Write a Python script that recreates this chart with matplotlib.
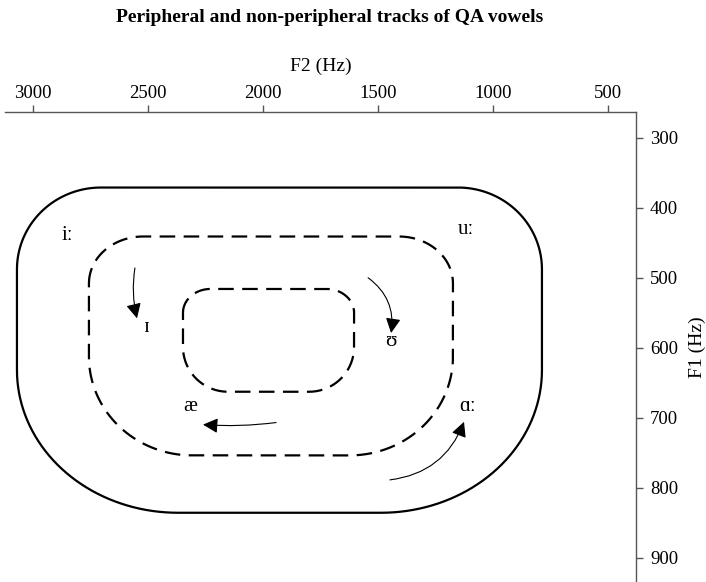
import numpy as np
import matplotlib
matplotlib.use("Agg")
import matplotlib.pyplot as plt
from matplotlib.path import Path
from matplotlib.patches import PathPatch, FancyArrowPatch

plt.rcParams['font.family'] = ['Liberation Serif', 'DejaVu Serif']

# ---- data (Hz) ----
title = "Peripheral and non-peripheral tracks of QA vowels"
x_ticks = [3000, 2500, 2000, 1500, 1000, 500]
y_ticks = [300, 400, 500, 600, 700, 800, 900]

# shapes: F2 left (high), F2 right (low), F1 top, F1 bottom; corner radii (F2, F1)
outer_box = [3070, 787, 371, 836]
outer_rad_top = [365, 117]
outer_rad_bot = [700, 204]
middle_box = [2757, 1174, 441, 754]
middle_rad_top = [235, 67]
middle_rad_bot = [450, 141]
inner_box = [2348, 1604, 516, 663]
inner_rad_top = [120, 34]
inner_rad_bot = [196, 64]

vowel_labels = ["iː", "ɪ", "æ", "uː", "ʊ", "ɑː"]
vowel_f2 = [2852, 2509, 2317, 1117, 1443, 1109]
vowel_f1 = [439, 571, 684, 431, 591, 684]

arrow_tail_f2 = [2557, 1543, 1943, 1448]
arrow_tail_f1 = [486, 500, 707, 789]
arrow_head_f2 = [2548, 1443, 2261, 1126]
arrow_head_f1 = [558, 579, 710, 706]
arrow_rad = [0.1, -0.3, -0.05, 0.3]


def rounded_box(box, rtop, rbot, n=40):
    L, R, T, B = box
    uL, uR = -L, -R  # u grows to the right (F2 decreases)

    def corner(cu, cv, ru, rv, a0, a1):
        a = np.linspace(a0, a1, n)
        return [(-(cu + ru * np.cos(x)), cv + rv * np.sin(x)) for x in a]

    pts = []
    pts += corner(uL + rtop[0], T + rtop[1], rtop[0], rtop[1], np.pi, 1.5 * np.pi)
    pts += corner(uR - rtop[0], T + rtop[1], rtop[0], rtop[1], 1.5 * np.pi, 2 * np.pi)
    pts += corner(uR - rbot[0], B - rbot[1], rbot[0], rbot[1], 0, 0.5 * np.pi)
    pts += corner(uL + rbot[0], B - rbot[1], rbot[0], rbot[1], 0.5 * np.pi, np.pi)
    pts.append(pts[0])
    return Path(pts)


fig = plt.figure(figsize=(7.06, 5.82), dpi=100)
ax = fig.add_axes([5 / 706, 0, 631 / 706, 470 / 582])
ax.set_xlim(3122, 378)
ax.set_ylim(935, 263)

for sp in ['left', 'bottom']:
    ax.spines[sp].set_visible(False)
for sp in ['top', 'right']:
    ax.spines[sp].set_color('#555555')
    ax.spines[sp].set_linewidth(1.0)

ax.xaxis.tick_top()
ax.yaxis.tick_right()
ax.set_xticks(x_ticks)
ax.set_yticks(y_ticks)
ax.tick_params(axis='both', direction='out', length=5, width=1.0, color='#555555',
               labelsize=13.5, labelcolor='black')
ax.tick_params(axis='x', pad=2)
ax.tick_params(axis='y', pad=5)
ax.xaxis.set_label_position('top')
ax.yaxis.set_label_position('right')
ax.set_xlabel("F2 (Hz)", fontsize=14, labelpad=10)
ax.set_ylabel("F1 (Hz)", fontsize=14, labelpad=8)

fig.text(330 / 706, 1 - 22 / 582, title, ha='center', va='baseline',
         fontsize=14, fontweight='bold')

ax.add_patch(PathPatch(rounded_box(outer_box, outer_rad_top, outer_rad_bot),
                       fill=False, lw=1.6, color='black'))
ax.add_patch(PathPatch(rounded_box(middle_box, middle_rad_top, middle_rad_bot),
                       fill=False, lw=1.6, color='black', linestyle=(0, (7, 3.8))))
ax.add_patch(PathPatch(rounded_box(inner_box, inner_rad_top, inner_rad_bot),
                       fill=False, lw=1.6, color='black', linestyle=(0, (7, 3.8))))

for lab, f2, f1 in zip(vowel_labels, vowel_f2, vowel_f1):
    ax.text(f2, f1, lab, ha='center', va='center', fontsize=15)

for tx, ty, hx, hy, r in zip(arrow_tail_f2, arrow_tail_f1, arrow_head_f2, arrow_head_f1, arrow_rad):
    ax.add_patch(FancyArrowPatch((tx, ty), (hx, hy), connectionstyle=f"arc3,rad={r}",
                                 arrowstyle='-|>,head_length=0.75,head_width=0.38',
                                 mutation_scale=12, lw=0.8, color='black',
                                 shrinkA=0, shrinkB=0))

fig.savefig("out.png", dpi=100)
